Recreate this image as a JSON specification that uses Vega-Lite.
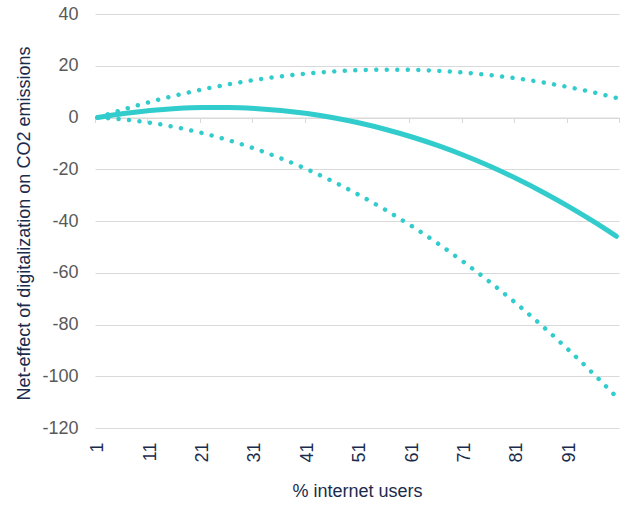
{
  "$schema": "https://vega.github.io/schema/vega-lite/v6.json",
  "autosize": {"type": "none"},
  "padding": {"left": 95, "top": 14, "right": 10, "bottom": 78},
  "width": 524,
  "height": 414,
  "background": "white",
  "config": {
    "view": {"stroke": null},
    "font": "Liberation Sans",
    "axis": {"labelFont": "Liberation Sans", "titleFont": "Liberation Sans", "titleFontWeight": "normal"}
  },
  "datasets": {
    "central": [
      {"pct": 1, "effect": 0},
      {"pct": 6, "effect": 1.54},
      {"pct": 11, "effect": 2.71},
      {"pct": 16, "effect": 3.5},
      {"pct": 21, "effect": 3.9},
      {"pct": 26, "effect": 3.91},
      {"pct": 31, "effect": 3.52},
      {"pct": 36, "effect": 2.72},
      {"pct": 41, "effect": 1.52},
      {"pct": 46, "effect": -0.1},
      {"pct": 51, "effect": -2.15},
      {"pct": 56, "effect": -4.63},
      {"pct": 61, "effect": -7.54},
      {"pct": 66, "effect": -10.9},
      {"pct": 71, "effect": -14.7},
      {"pct": 76, "effect": -18.96},
      {"pct": 81, "effect": -23.68},
      {"pct": 86, "effect": -28.86},
      {"pct": 91, "effect": -34.52},
      {"pct": 96, "effect": -40.65},
      {"pct": 100, "effect": -45.9}
    ],
    "bounds": [
      {"pct": 1, "effect": 0, "bound": "upper"},
      {"pct": 6, "effect": 3.15, "bound": "upper"},
      {"pct": 11, "effect": 6.02, "bound": "upper"},
      {"pct": 16, "effect": 8.58, "bound": "upper"},
      {"pct": 21, "effect": 10.85, "bound": "upper"},
      {"pct": 26, "effect": 12.83, "bound": "upper"},
      {"pct": 31, "effect": 14.51, "bound": "upper"},
      {"pct": 36, "effect": 15.9, "bound": "upper"},
      {"pct": 41, "effect": 16.99, "bound": "upper"},
      {"pct": 46, "effect": 17.79, "bound": "upper"},
      {"pct": 51, "effect": 18.29, "bound": "upper"},
      {"pct": 56, "effect": 18.49, "bound": "upper"},
      {"pct": 61, "effect": 18.41, "bound": "upper"},
      {"pct": 66, "effect": 18.02, "bound": "upper"},
      {"pct": 71, "effect": 17.34, "bound": "upper"},
      {"pct": 76, "effect": 16.37, "bound": "upper"},
      {"pct": 81, "effect": 15.1, "bound": "upper"},
      {"pct": 86, "effect": 13.54, "bound": "upper"},
      {"pct": 91, "effect": 11.68, "bound": "upper"},
      {"pct": 96, "effect": 9.53, "bound": "upper"},
      {"pct": 100, "effect": 7.59, "bound": "upper"},
      {"pct": 1, "effect": 0, "bound": "lower"},
      {"pct": 6, "effect": -0.76, "bound": "lower"},
      {"pct": 11, "effect": -2.02, "bound": "lower"},
      {"pct": 16, "effect": -3.77, "bound": "lower"},
      {"pct": 21, "effect": -6.03, "bound": "lower"},
      {"pct": 26, "effect": -8.78, "bound": "lower"},
      {"pct": 31, "effect": -12.04, "bound": "lower"},
      {"pct": 36, "effect": -15.8, "bound": "lower"},
      {"pct": 41, "effect": -20.05, "bound": "lower"},
      {"pct": 46, "effect": -24.8, "bound": "lower"},
      {"pct": 51, "effect": -30.06, "bound": "lower"},
      {"pct": 56, "effect": -35.81, "bound": "lower"},
      {"pct": 61, "effect": -42.06, "bound": "lower"},
      {"pct": 66, "effect": -48.81, "bound": "lower"},
      {"pct": 71, "effect": -56.06, "bound": "lower"},
      {"pct": 76, "effect": -63.81, "bound": "lower"},
      {"pct": 81, "effect": -72.07, "bound": "lower"},
      {"pct": 86, "effect": -80.82, "bound": "lower"},
      {"pct": 91, "effect": -90.06, "bound": "lower"},
      {"pct": 96, "effect": -99.81, "bound": "lower"},
      {"pct": 100, "effect": -107.97, "bound": "lower"}
    ]
  },
  "resolve": {"axis": {"x": "independent"}},
  "encoding": {
    "y": {
      "field": "effect", "type": "quantitative",
      "scale": {"domain": [-120, 40], "nice": false, "zero": false},
      "axis": {
        "values": [-120, -100, -80, -60, -40, -20, 0, 20, 40],
        "labelExpr": "'' + datum.value",
        "grid": true, "gridColor": "#d9d9d9", "gridWidth": 1,
        "domain": false, "ticks": false,
        "labelPadding": 17, "labelFontSize": 18, "labelColor": "#595959",
        "title": "Net-effect of digitalization on CO2 emissions",
        "titleFontSize": 18, "titleColor": "#1a2b4c",
        "titleX": -71, "titleY": 209, "titleAngle": -90,
        "titleAlign": "center", "titleBaseline": "middle"
      }
    }
  },
  "layer": [
    {
      "data": {"name": "bounds"},
      "mark": {"type": "line", "interpolate": "monotone", "color": "#33cccc", "strokeWidth": 4.5, "strokeCap": "round", "strokeDash": [0.01, 10.5]},
      "encoding": {
        "x": {
          "field": "pct", "type": "quantitative",
          "scale": {"domain": [0.5, 100.5], "nice": false, "zero": false},
          "axis": {
            "orient": "bottom", "offset": -310.5,
            "values": [0.5, 10.5, 20.5, 30.5, 40.5, 50.5, 60.5, 70.5, 80.5, 90.5, 100.5],
            "labels": false, "grid": false, "title": null,
            "domain": true, "domainColor": "#d9d9d9", "domainWidth": 1,
            "ticks": true, "tickSize": 5, "tickColor": "#d9d9d9", "tickWidth": 1
          }
        },
        "detail": {"field": "bound", "type": "nominal"}
      }
    },
    {
      "data": {"name": "central"},
      "mark": {"type": "line", "interpolate": "monotone", "color": "#33cccc", "strokeWidth": 5, "strokeCap": "round"},
      "encoding": {
        "x": {
          "field": "pct", "type": "quantitative",
          "axis": {
            "orient": "bottom",
            "values": [1, 11, 21, 31, 41, 51, 61, 71, 81, 91],
            "labelAngle": -90, "labelPadding": 14, "labelFontSize": 18, "labelColor": "#1a2b4c",
            "labelAlign": "right", "labelBaseline": "middle",
            "grid": false, "domain": false, "ticks": false,
            "title": "% internet users", "titleFontSize": 18, "titleColor": "#1a2b4c",
            "titleY": 63, "titleBaseline": "middle"
          }
        }
      }
    }
  ]
}
